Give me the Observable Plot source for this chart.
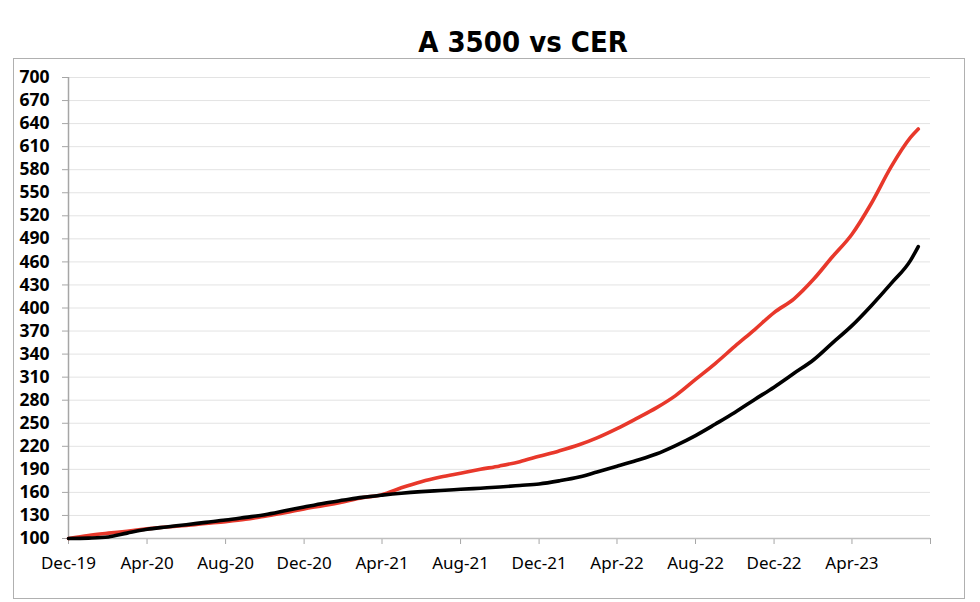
<!DOCTYPE html>
<html>
<head>
<meta charset="utf-8">
<script src="https://cdn.jsdelivr.net/npm/d3@7"></script>
<script src="https://cdn.jsdelivr.net/npm/@observablehq/plot@0.6"></script>
<style>
  html, body { margin: 0; padding: 0; background: #fff; }
  #wrap { position: relative; width: 980px; height: 602px; overflow: hidden; }
  #title { position: absolute; left: 0; width: 1046px; top: 24px; text-align: center;
    font-family: "DejaVu Sans Condensed", "DejaVu Sans", sans-serif; font-stretch: condensed;
    font-weight: bold; font-size: 29px; line-height: 36px; color: #000; }
  #frame { position: absolute; left: 13px; top: 58px; width: 950px; height: 539px;
    border: 1px solid #b0b0b0; pointer-events: none; }
  #chart { position: absolute; left: 0; top: 0; }
</style>
</head>
<body>
<div id="wrap">
  <div id="chart"></div>
  <div id="frame"></div>
  <div id="title">A 3500 vs CER</div>
</div>
<script>
// Dates (monthly, Dec-19 .. Jul-23, plus last observation)
const dates = [
  "2019-12-01","2020-01-01","2020-02-01","2020-03-01","2020-04-01","2020-05-01","2020-06-01",
  "2020-07-01","2020-08-01","2020-09-01","2020-10-01","2020-11-01","2020-12-01",
  "2021-01-01","2021-02-01","2021-03-01","2021-04-01","2021-05-01","2021-06-01",
  "2021-07-01","2021-08-01","2021-09-01","2021-10-01","2021-11-01","2021-12-01",
  "2022-01-01","2022-02-01","2022-03-01","2022-04-01","2022-05-01","2022-06-01",
  "2022-07-01","2022-08-01","2022-09-01","2022-10-01","2022-11-01","2022-12-01",
  "2023-01-01","2023-02-01","2023-03-01","2023-04-01","2023-05-01","2023-06-01",
  "2023-07-01","2023-07-13"
];
// A 3500 (red)
const a3500 = [
  100, 104, 107, 109.5, 112.5, 115, 117, 119.5, 122, 125, 129, 133.5, 138.5,
  143, 148, 153, 157, 166, 174, 180, 185, 190, 194.5, 200, 207,
  214, 222, 231, 243, 256, 270, 286, 307, 328, 350, 372, 394,
  412, 438, 466, 496, 536, 584, 622, 633
];
// CER (black)
const cer = [
  100, 100.5, 102, 107, 112, 115, 118, 121, 124, 127.5, 131, 136, 141,
  146, 150, 153.5, 156.5, 159, 161, 162.5, 164, 165.5, 167, 169, 171,
  175, 180, 186.5, 194, 201.5, 210, 221, 234, 249, 264, 281, 297,
  315, 333, 354, 377, 403, 432, 462, 480
];
// Axis ticks
const yTicks = [100,130,160,190,220,250,280,310,340,370,400,430,460,490,520,550,580,610,640,670,700];
const xTicks = ["2019-12-01","2020-04-01","2020-08-01","2020-12-01","2021-04-01","2021-08-01",
  "2021-12-01","2022-04-01","2022-08-01","2022-12-01","2023-04-01","2023-08-01"];
const xTickLabels = ["Dec-19","Apr-20","Aug-20","Dec-20","Apr-21","Aug-21",
  "Dec-21","Apr-22","Aug-22","Dec-22","Apr-23",""];

const parse = d3.utcParse("%Y-%m-%d");
const rows = [];
dates.forEach((d, i) => {
  rows.push({date: parse(d), value: a3500[i], series: "A 3500"});
  rows.push({date: parse(d), value: cer[i], series: "CER"});
});
const xt = xTicks.map(parse);
const labelOf = new Map(xt.map((d, i) => [+d, xTickLabels[i]]));

const chart = Plot.plot({
  width: 980,
  height: 602,
  marginLeft: 68,
  marginRight: 50,
  marginTop: 77,
  marginBottom: 64,
  style: {background: "transparent", overflow: "visible"},
  x: {type: "utc", domain: [xt[0], xt[xt.length - 1]]},
  y: {domain: [100, 700]},
  marks: [
    Plot.gridY(yTicks, {stroke: "#e3e3e3", strokeOpacity: 1, strokeWidth: 1}),
    Plot.axisY(yTicks, {
      tickSize: 6, tickPadding: 13, stroke: "#a6a6a6", fill: "#000",
      fontFamily: "'Noto Sans', sans-serif", fontWeight: "bold", fontSize: 17.5,
      tickFormat: d => String(d), label: null
    }),
    Plot.axisX(xt, {
      tickSize: 6, tickPadding: 12, stroke: "#a6a6a6", fill: "#000",
      fontFamily: "'Noto Sans', sans-serif", fontSize: 17,
      tickFormat: d => labelOf.get(+d), label: null
    }),
    Plot.ruleY([yTicks[0]], {stroke: "#bfbfbf", strokeWidth: 1.5}),
    Plot.ruleX([xt[0]], {stroke: "#a6a6a6", strokeWidth: 1.5}),
    Plot.lineY(rows, {
      x: "date", y: "value", z: "series",
      stroke: d => d.series === "A 3500" ? "#e8382b" : "#000000",
      strokeWidth: 3.6, strokeLinejoin: "round", strokeLinecap: "round",
      curve: "monotone-x"
    })
  ]
});
document.getElementById("chart").appendChild(chart);
</script>
</body>
</html>
